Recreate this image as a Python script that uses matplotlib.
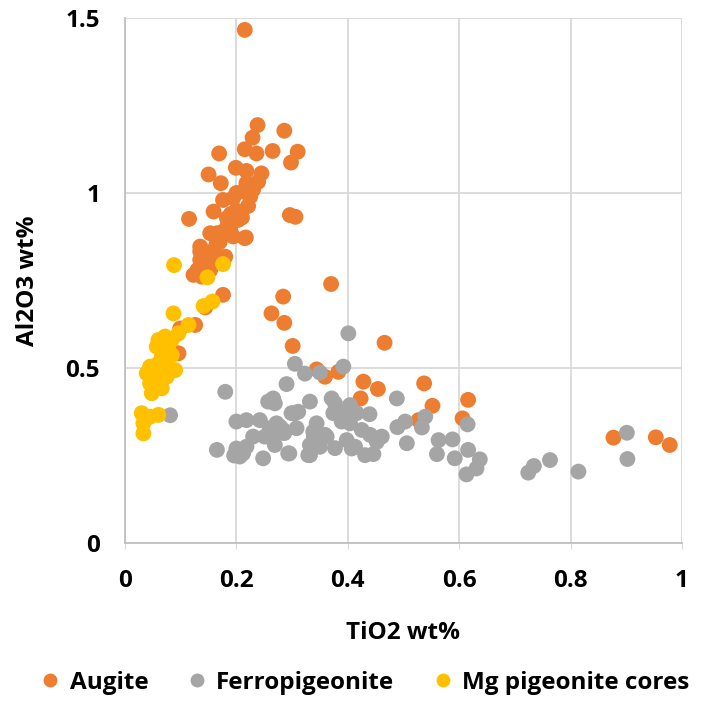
import matplotlib
matplotlib.use("Agg")
import matplotlib.pyplot as plt
from matplotlib.lines import Line2D

plt.rcParams['font.family'] = ['Open Sans', 'DejaVu Sans']

augite_x = [0.215, 0.238, 0.286, 0.229, 0.215, 0.236, 0.265, 0.310, 0.298, 0.169,
            0.150, 0.172, 0.199, 0.218, 0.245, 0.239, 0.218, 0.212, 0.176, 0.194,
            0.221, 0.159, 0.115, 0.296, 0.306, 0.183, 0.203, 0.153, 0.176, 0.217,
            0.194, 0.135, 0.165, 0.165, 0.189, 0.215, 0.135, 0.159, 0.180, 0.135,
            0.123, 0.138, 0.153, 0.176, 0.144, 0.284, 0.263, 0.286, 0.126, 0.099,
            0.301, 0.096, 0.370, 0.344, 0.359, 0.383, 0.466, 0.428, 0.454, 0.423,
            0.537, 0.552, 0.616, 0.606, 0.527, 0.877, 0.953, 0.978,
            0.200, 0.185, 0.210, 0.170, 0.150, 0.190, 0.225, 0.200, 0.230, 0.160,
            0.145, 0.130]
augite_y = [1.466, 1.194, 1.178, 1.158, 1.125, 1.113, 1.120, 1.118, 1.087, 1.113,
            1.053, 1.028, 1.072, 1.063, 1.056, 1.032, 1.028, 1.004, 0.980, 0.985,
            0.963, 0.947, 0.926, 0.937, 0.932, 0.928, 0.923, 0.885, 0.890, 0.873,
            0.876, 0.847, 0.856, 0.885, 0.894, 0.871, 0.833, 0.837, 0.818, 0.809,
            0.766, 0.761, 0.780, 0.709, 0.673, 0.704, 0.656, 0.629, 0.623, 0.613,
            0.563, 0.542, 0.740, 0.496, 0.475, 0.489, 0.572, 0.461, 0.440, 0.413,
            0.456, 0.392, 0.409, 0.356, 0.351, 0.301, 0.302, 0.280,
            0.950, 0.910, 0.930, 0.860, 0.820, 0.940, 0.990, 1.000, 1.010, 0.800,
            0.790, 0.780]

ferro_x = [0.401, 0.305, 0.323, 0.350, 0.392, 0.290, 0.180, 0.081, 0.332, 0.371,
           0.377, 0.404, 0.439, 0.488, 0.539, 0.503, 0.489, 0.533, 0.615, 0.901,
           0.902, 0.763, 0.734, 0.724, 0.814, 0.563, 0.588, 0.560, 0.592, 0.616,
           0.637, 0.631, 0.613, 0.506, 0.295, 0.332, 0.350, 0.377, 0.398, 0.413,
           0.431, 0.446, 0.425, 0.440, 0.461, 0.452, 0.389, 0.404, 0.395, 0.374,
           0.416, 0.344, 0.359, 0.338, 0.305, 0.278, 0.308, 0.257, 0.269, 0.266,
           0.200, 0.218, 0.242, 0.230, 0.251, 0.260, 0.272, 0.284, 0.299, 0.311,
           0.362, 0.269, 0.165, 0.200, 0.206, 0.218, 0.212, 0.248, 0.293, 0.332,
           0.329, 0.407, 0.263, 0.286, 0.339, 0.341, 0.196]
ferro_y = [0.599, 0.512, 0.484, 0.487, 0.504, 0.454, 0.432, 0.365, 0.404, 0.413,
           0.399, 0.394, 0.368, 0.413, 0.361, 0.347, 0.331, 0.330, 0.339, 0.315,
           0.240, 0.237, 0.220, 0.201, 0.204, 0.294, 0.296, 0.254, 0.242, 0.266,
           0.239, 0.213, 0.196, 0.285, 0.256, 0.251, 0.275, 0.271, 0.294, 0.275,
           0.251, 0.254, 0.323, 0.309, 0.304, 0.289, 0.347, 0.342, 0.371, 0.371,
           0.371, 0.342, 0.309, 0.318, 0.371, 0.333, 0.328, 0.404, 0.399, 0.413,
           0.347, 0.351, 0.351, 0.304, 0.304, 0.328, 0.342, 0.323, 0.371, 0.375,
           0.304, 0.280, 0.266, 0.270, 0.247, 0.275, 0.256, 0.242, 0.256, 0.280,
           0.251, 0.270, 0.314, 0.314, 0.305, 0.294, 0.250]

mgpig_x = [0.088, 0.176, 0.148, 0.157, 0.141, 0.087, 0.114, 0.096, 0.060, 0.072,
           0.084, 0.057, 0.078, 0.066, 0.084, 0.045, 0.060, 0.078, 0.039, 0.090,
           0.045, 0.060, 0.075, 0.048, 0.066, 0.030, 0.045, 0.060, 0.033, 0.033]
mgpig_y = [0.794, 0.797, 0.759, 0.690, 0.677, 0.656, 0.623, 0.599, 0.580, 0.590,
           0.580, 0.561, 0.551, 0.532, 0.537, 0.504, 0.513, 0.499, 0.485, 0.494,
           0.456, 0.470, 0.475, 0.428, 0.442, 0.371, 0.361, 0.366, 0.342, 0.313]

x_ticks = [0, 0.2, 0.4, 0.6, 0.8, 1]
x_tick_labels = ['0', '0.2', '0.4', '0.6', '0.8', '1']
y_ticks = [0, 0.5, 1, 1.5]
y_tick_labels = ['0', '0.5', '1', '1.5']

series = [
    ('Augite', augite_x, augite_y, '#ED7D31'),
    ('Ferropigeonite', ferro_x, ferro_y, '#A5A5A5'),
    ('Mg pigeonite cores', mgpig_x, mgpig_y, '#FFC000'),
]

FS = 17.5

fig = plt.figure(figsize=(7.11, 7.03), dpi=100)
ax = fig.add_axes([125/711, 1 - 543/703, (682-125)/711, (543-18)/703])

for name, xs, ys, col in series:
    ax.scatter(xs, ys, s=130, color=col, edgecolors='none', zorder=3, label=name)

ax.set_xlim(0, 1)
ax.set_ylim(0, 1.5)
ax.set_xticks(x_ticks)
ax.set_xticklabels(x_tick_labels)
ax.set_yticks(y_ticks)
ax.set_yticklabels(y_tick_labels)
ax.grid(True, color='#D9D9D9', linewidth=1.3, zorder=0)
ax.set_axisbelow(True)
for s in ['top', 'right']:
    ax.spines[s].set_visible(False)
for s in ['left', 'bottom']:
    ax.spines[s].set_color('#BFBFBF')
    ax.spines[s].set_linewidth(1.3)
ax.tick_params(axis='x', length=4, color='#D9D9D9', pad=15, labelsize=FS)
ax.tick_params(axis='y', length=0, pad=18, labelsize=FS)
for lab in ax.get_xticklabels() + ax.get_yticklabels():
    lab.set_fontweight('bold')

ax.set_xlabel('TiO2 wt%', fontsize=FS, fontweight='bold', labelpad=20)
ax.set_ylabel('Al2O3 wt%', fontsize=FS, fontweight='bold', labelpad=18)

handles = [Line2D([], [], marker='o', linestyle='none', markersize=10,
                  markerfacecolor=c, markeredgecolor='none') for _, _, _, c in series]
fig.legend(handles, [n for n, _, _, _ in series], loc='center',
           bbox_to_anchor=(365/711, 1 - 683/703), ncol=3, frameon=False,
           prop={'size': FS, 'weight': 'bold'}, handletextpad=0.4,
           columnspacing=1.6, handlelength=0.8)

fig.savefig('out.png', dpi=100)
